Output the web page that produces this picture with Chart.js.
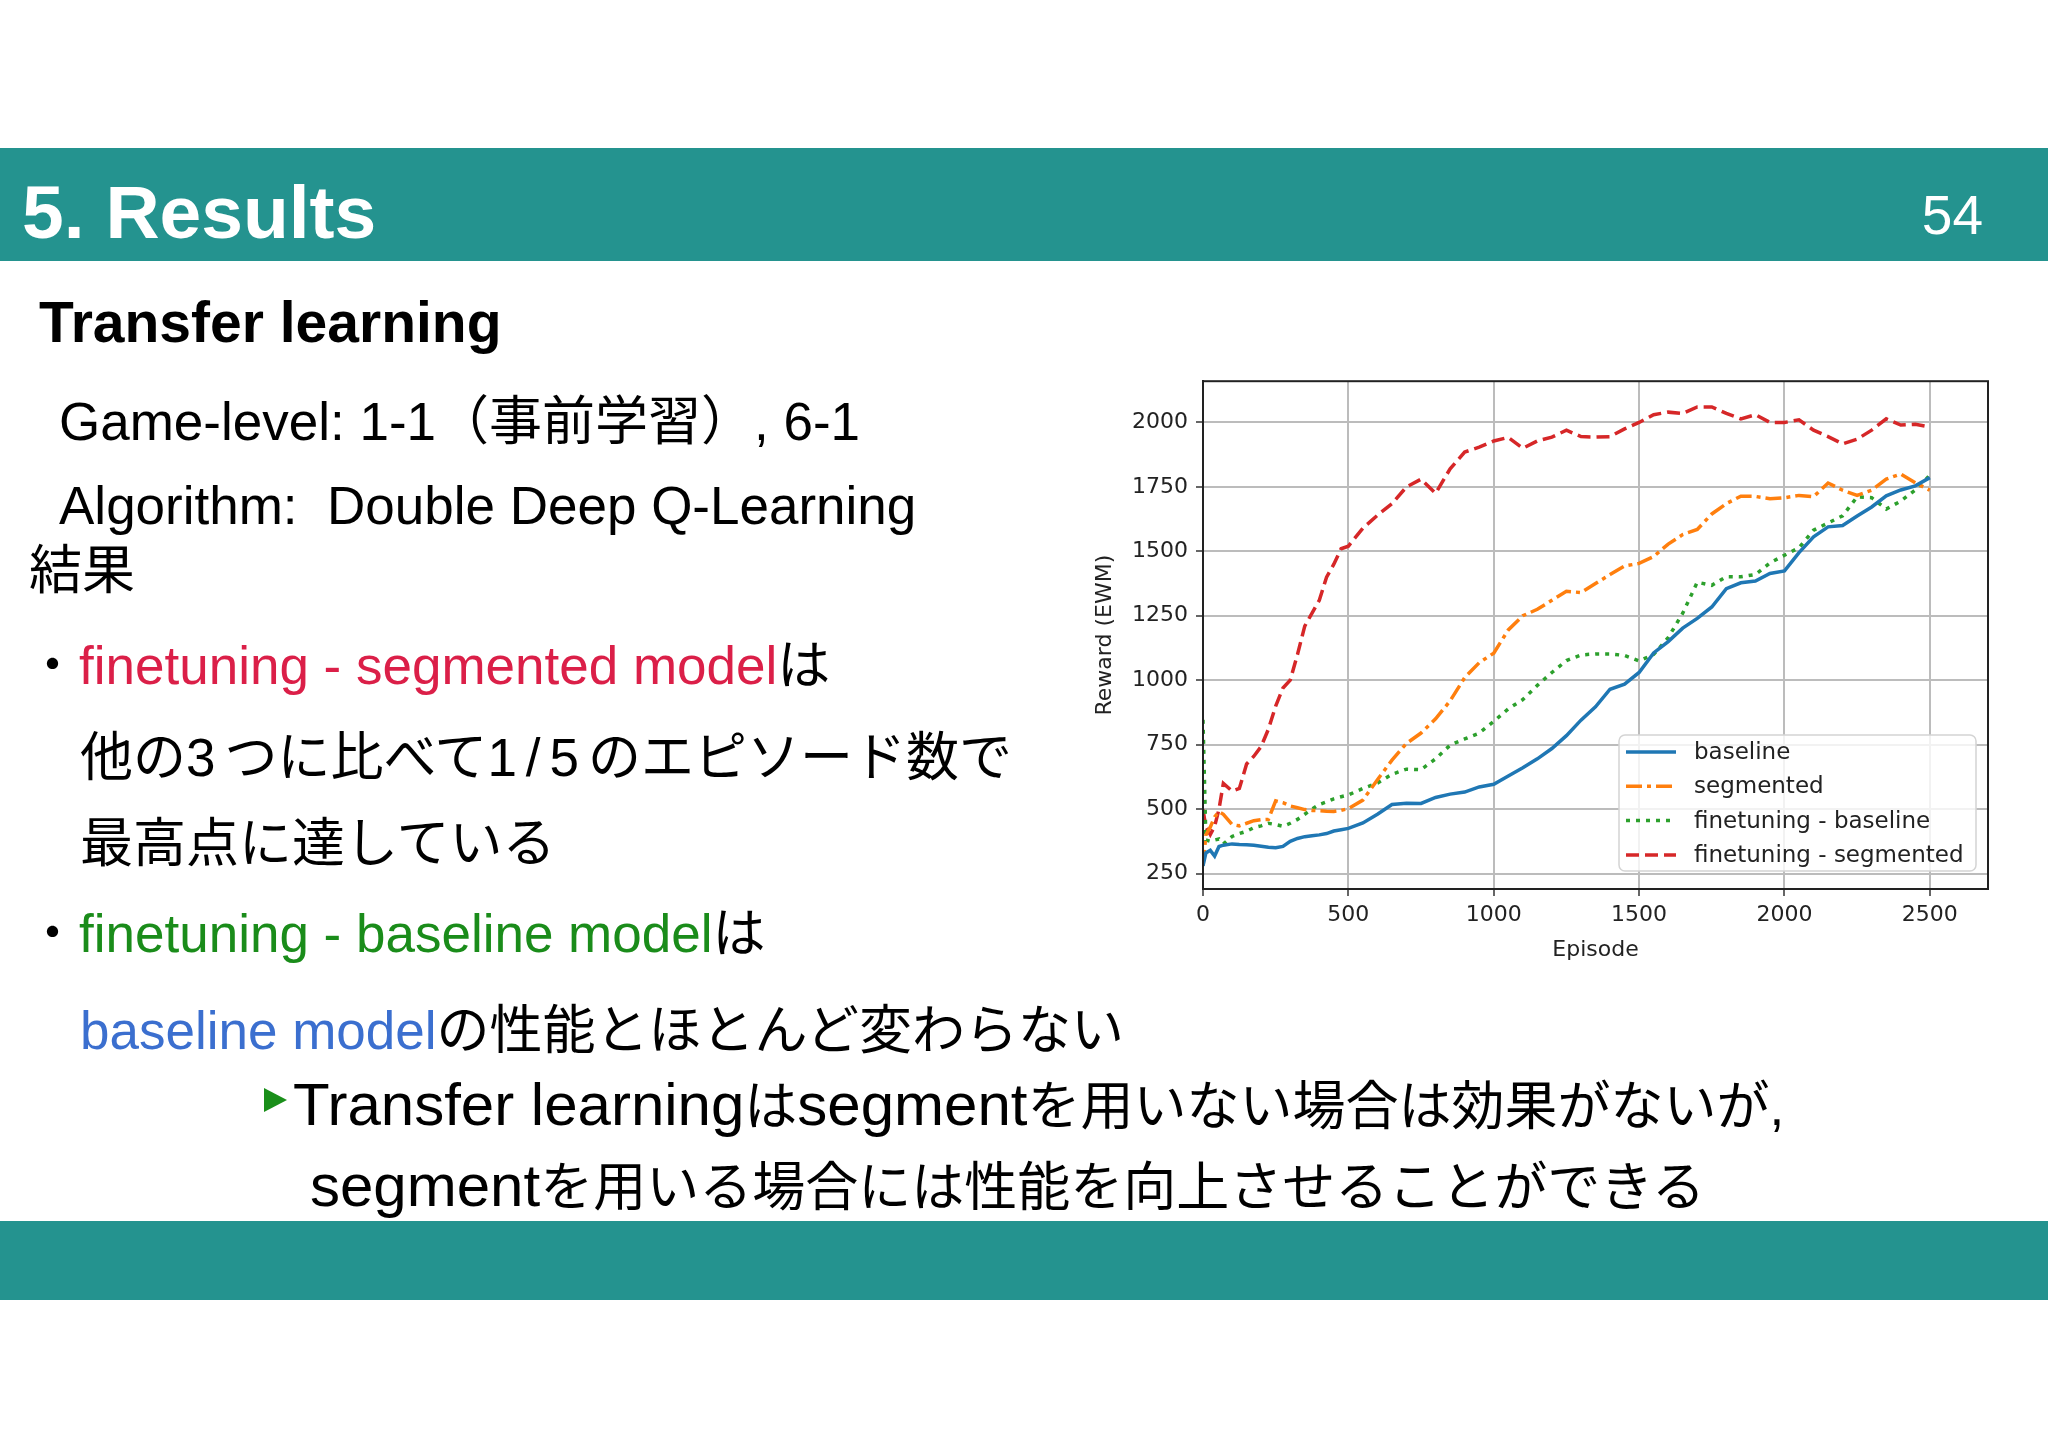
<!DOCTYPE html>
<html lang="ja">
<head>
<meta charset="UTF-8" />
<title>5. Results</title>
<script src="https://cdn.jsdelivr.net/npm/chart.js"></script>
<style>
  html, body { margin: 0; padding: 0; }
  body {
    width: 2048px; height: 1447px; position: relative; overflow: hidden; background: #fff;
    font-family: "Liberation Sans", "Noto Sans CJK JP", sans-serif; color: #000;
  }
  .band { position: absolute; left: 0; width: 2048px; background: #24938f; }
  .t { position: absolute; white-space: nowrap; font-size: 53px; line-height: 53px; }
  .red { color: #db1f48; }
  .green { color: #1a8c1a; }
  .blue { color: #3b6fcf; }
  .big { font-size: 60px; }
  .wide { letter-spacing: 9px; }
  #chartBox { position: absolute; left: 1090px; top: 360px; width: 920px; height: 620px; }
  .tri { position: absolute; left: 264px; top: 1088px; width: 0; height: 0;
         border-top: 12px solid transparent; border-bottom: 12px solid transparent; border-left: 23px solid #1a8f1a; }
</style>
</head>
<body>

  <div class="band" style="top:148px;height:113px;"></div>
  <div class="t" style="left:22px;top:175px;font-size:75px;line-height:75px;font-weight:bold;color:#fff;">5. Results</div>
  <div class="t" style="right:65px;top:188px;font-size:55px;line-height:55px;color:#fff;">54</div>

  <div class="t" style="left:39px;top:294px;font-size:57px;line-height:57px;font-weight:bold;">Transfer learning</div>
  <div class="t" style="left:59px;top:395px;">Game-level: 1-1（事前学習）, 6-1</div>
  <div class="t" style="left:59px;top:479px;">Algorithm:&nbsp;&nbsp;Double Deep Q-Learning</div>
  <div class="t" style="left:29px;top:544px;">結果</div>

  <div class="t" style="left:26px;top:639px;">・<span class="red">finetuning - segmented model</span>は</div>
  <div class="t" style="left:80px;top:731px;">他の<span class="wide">3</span>つに比べて<span class="wide">1/5</span>のエピソード数で</div>
  <div class="t" style="left:80px;top:817px;">最高点に達している</div>
  <div class="t" style="left:26px;top:907px;">・<span class="green">finetuning - baseline model</span>は</div>
  <div class="t" style="left:80px;top:1004px;"><span class="blue">baseline model</span>の性能とほとんど変わらない</div>

  <div class="tri"></div>
  <div class="t" style="left:293px;top:1078px;"><span class="big">Transfer learning</span>は<span class="big">segment</span>を用いない場合は効果がないが,</div>
  <div class="t" style="left:310px;top:1159px;"><span class="big">segment</span>を用いる場合には性能を向上させることができる</div>

  <div class="band" style="top:1221px;height:79px;"></div>

  <div id="chartBox"><canvas id="rewardChart" width="920" height="620"></canvas></div>

<script>
const episodes = [0, 10, 25, 40, 55, 70, 100, 125, 150, 175, 200, 225, 250, 275, 300, 325, 350, 375, 400, 425, 450, 475, 500,
  550, 600, 650, 700, 750, 800, 850, 900, 950, 1000, 1050, 1100, 1150, 1200, 1250, 1300, 1350, 1400, 1450, 1500,
  1550, 1600, 1650, 1700, 1750, 1800, 1850, 1900, 1950, 2000, 2050, 2100, 2150, 2200, 2250, 2300, 2350, 2400, 2450, 2500];

// Reward (EWM)
const baseline = [280, 330, 340, 318, 355, 360, 365, 363, 362, 360, 356, 352, 350, 355, 375, 386, 393, 397, 400, 405, 415, 420, 425,
  446, 480, 518, 523, 522, 545, 558, 566, 586, 596, 628, 660, 695, 735, 785, 845, 897, 965, 985, 1030,
  1106, 1150, 1202, 1240, 1284, 1355, 1378, 1385, 1414, 1424, 1495, 1556, 1595, 1600, 1637, 1672, 1715, 1738, 1754, 1786];
const segmented = [280, 400, 430, 470, 490, 480, 440, 435, 445, 455, 459, 460, 532, 525, 512, 505, 498, 495, 494, 492, 491, 495, 502,
  535, 614, 690, 755, 795, 850, 920, 1010, 1068, 1105, 1195, 1250, 1275, 1310, 1345, 1340, 1375, 1410, 1443, 1453,
  1480, 1528, 1565, 1585, 1645, 1685, 1714, 1713, 1704, 1708, 1717, 1712, 1765, 1737, 1717, 1737, 1780, 1800, 1766, 1737];
const ftBaseline = [846, 380, 375, 380, 384, 365, 394, 405, 414, 428, 435, 445, 440, 433, 445, 460, 480, 500, 518, 528, 540, 548, 555,
  580, 601, 635, 655, 653, 695, 748, 772, 795, 840, 889, 925, 980, 1030, 1076, 1098, 1102, 1102, 1096, 1075,
  1100, 1165, 1260, 1380, 1368, 1402, 1401, 1410, 1455, 1485, 1514, 1582, 1610, 1638, 1711, 1708, 1664, 1695, 1738, 1795];
const ftSegmented = [498, 430, 401, 433, 500, 600, 570, 580, 675, 705, 743, 810, 900, 970, 1000, 1100, 1210, 1260, 1310, 1400, 1450, 1510, 1520,
  1590, 1640, 1685, 1750, 1780, 1725, 1820, 1885, 1904, 1928, 1942, 1900, 1928, 1943, 1970, 1945, 1943, 1945, 1975, 2000,
  2030, 2040, 2035, 2060, 2060, 2035, 2014, 2030, 2000, 2000, 2010, 1970, 1945, 1917, 1935, 1970, 2014, 1990, 1993, 1982];

const seriesNames = ['baseline', 'segmented', 'finetuning - baseline', 'finetuning - segmented'];
const xTicks = [0, 500, 1000, 1500, 2000, 2500];
const yTicks = [250, 500, 750, 1000, 1250, 1500, 1750, 2000];

function toPoints(values) {
  return values.map((v, i) => ({ x: episodes[i], y: v }));
}

// full box around the plot + matplotlib style legend in the lower right
const framePlugin = {
  id: 'frame',
  afterDatasetsDraw(chart) {
    const { ctx, chartArea: a } = chart;
    ctx.save();
    ctx.strokeStyle = '#222';
    ctx.lineWidth = 2;
    ctx.strokeRect(a.left, a.top, a.right - a.left, a.bottom - a.top);

    const bx = a.right - 369, by = a.bottom - 154, bw = 357, bh = 136;
    ctx.beginPath();
    ctx.roundRect(bx, by, bw, bh, 6);
    ctx.fillStyle = 'rgba(255,255,255,0.8)';
    ctx.fill();
    ctx.strokeStyle = '#d4d4d4';
    ctx.lineWidth = 1.5;
    ctx.stroke();

    ctx.font = '23px "DejaVu Sans"';
    ctx.textBaseline = 'middle';
    chart.data.datasets.forEach((ds, i) => {
      const y = by + 17 + i * 34.3;
      ctx.beginPath();
      ctx.setLineDash(ds.borderDash || []);
      ctx.strokeStyle = ds.borderColor;
      ctx.lineWidth = ds.borderWidth;
      ctx.moveTo(bx + 7, y);
      ctx.lineTo(bx + 57, y);
      ctx.stroke();
      ctx.setLineDash([]);
      ctx.fillStyle = '#222';
      ctx.fillText(ds.label, bx + 75, y + 1);
    });
    ctx.restore();
  }
};

const tickFont = { family: 'DejaVu Sans', size: 22 };
const gridStyle = { color: '#bcbcbc', lineWidth: 2, tickLength: 7, tickColor: '#333', tickWidth: 1.5 };

new Chart(document.getElementById('rewardChart').getContext('2d'), {
  type: 'line',
  data: {
    datasets: [
      { label: seriesNames[0], data: toPoints(baseline), borderColor: '#1f77b4', borderWidth: 3.5 },
      { label: seriesNames[1], data: toPoints(segmented), borderColor: '#ff7f0e', borderWidth: 3.5, borderDash: [16, 5, 4, 5] },
      { label: seriesNames[2], data: toPoints(ftBaseline), borderColor: '#2ca02c', borderWidth: 3.5, borderDash: [4, 6] },
      { label: seriesNames[3], data: toPoints(ftSegmented), borderColor: '#d62728', borderWidth: 3.5, borderDash: [13, 6] }
    ]
  },
  options: {
    responsive: false,
    animation: false,
    devicePixelRatio: 1,
    layout: { padding: { top: 20, right: 22, left: 0, bottom: 0 } },
    elements: { point: { radius: 0 }, line: { tension: 0, fill: false } },
    plugins: { legend: { display: false }, tooltip: { enabled: false } },
    scales: {
      x: {
        type: 'linear',
        min: 0,
        max: 2700,
        afterBuildTicks(scale) { scale.ticks = xTicks.map(v => ({ value: v })); },
        ticks: { font: tickFont, color: '#222', padding: 6, maxRotation: 0, autoSkip: false, callback: v => String(v) },
        grid: gridStyle,
        border: { display: true, color: '#222', width: 2 },
        title: { display: true, text: 'Episode', font: tickFont, color: '#222', padding: { top: 0, bottom: 17 } },
        afterFit(scale) { scale.height = 91; }
      },
      y: {
        min: 190,
        max: 2160,
        afterBuildTicks(scale) { scale.ticks = yTicks.map(v => ({ value: v })); },
        ticks: { font: tickFont, color: '#222', padding: 8, autoSkip: false, callback: v => String(v) },
        grid: gridStyle,
        border: { display: true, color: '#222', width: 2 },
        title: { display: true, text: 'Reward (EWM)', font: tickFont, color: '#222', padding: { top: 2, bottom: 0 } },
        afterFit(scale) { scale.width = 113; }
      }
    }
  },
  plugins: [framePlugin]
});
</script>
</body>
</html>
